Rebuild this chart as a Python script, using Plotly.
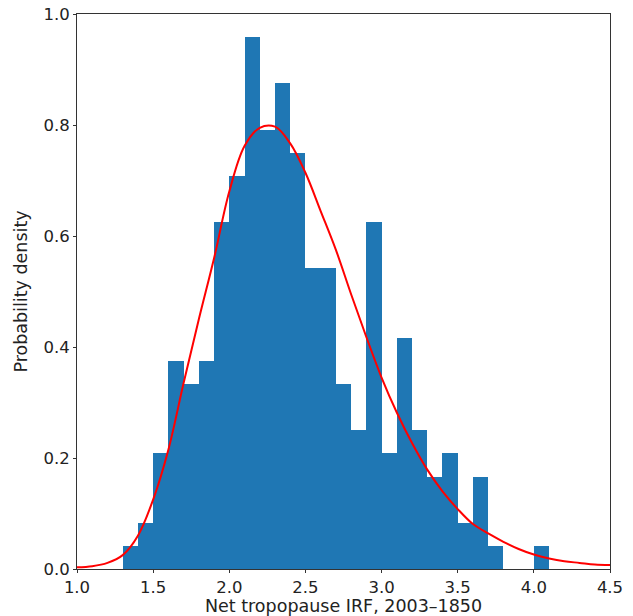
import plotly.graph_objects as go

# histogram: bin left edges and counts (240 samples, bin width 0.1)
bin_left = [1.3, 1.4, 1.5, 1.6, 1.7, 1.8, 1.9, 2.0, 2.1, 2.2, 2.3, 2.4, 2.5, 2.6,
            2.7, 2.8, 2.9, 3.0, 3.1, 3.2, 3.3, 3.4, 3.5, 3.6, 3.7, 3.8, 3.9, 4.0]
counts = [1, 2, 5, 9, 8, 9, 15, 17, 23, 19, 21, 18, 13, 13,
          8, 6, 15, 5, 10, 6, 4, 5, 2, 4, 1, 0, 0, 1]
bin_width = 0.1
n_total = sum(counts)
density = [c / (n_total * bin_width) for c in counts]
centers = [b + bin_width / 2 for b in bin_left]

# fitted pdf
curve_x = [1.0, 1.1, 1.2, 1.3, 1.4, 1.5, 1.6, 1.7, 1.8, 1.9, 2.0, 2.1, 2.2, 2.3,
           2.4, 2.5, 2.6, 2.7, 2.8, 2.9, 3.0, 3.1, 3.2, 3.3, 3.4, 3.5, 3.6, 3.7,
           3.8, 3.9, 4.0, 4.1, 4.2, 4.3, 4.4, 4.5]
curve_y = [0.003, 0.005, 0.011, 0.025, 0.060, 0.125, 0.215, 0.335, 0.45, 0.56,
           0.68, 0.762, 0.795, 0.797, 0.767, 0.714, 0.645, 0.575, 0.495, 0.418,
           0.345, 0.282, 0.227, 0.179, 0.140, 0.108, 0.081, 0.064, 0.049, 0.036,
           0.026, 0.019, 0.014, 0.011, 0.008, 0.007]

fig = go.Figure()
fig.add_trace(go.Bar(x=centers, y=density, width=bin_width,
                     marker=dict(color="#1f77b4", line=dict(width=0)),
                     showlegend=False))
fig.add_trace(go.Scatter(x=curve_x, y=curve_y, mode="lines", line_shape="spline",
                         line=dict(color="red", width=2), showlegend=False))

axis_common = dict(showline=True, linecolor="#333", linewidth=1, mirror=True,
                   ticks="outside", ticklen=3, tickcolor="#333", showgrid=False,
                   zeroline=False, automargin=False, tickfont=dict(size=16.5, color="#222"))
fig.update_xaxes(range=[1.0, 4.5], tickvals=[1.0, 1.5, 2.0, 2.5, 3.0, 3.5, 4.0, 4.5],
                 tickformat=".1f", title=dict(text="Net tropopause IRF, 2003–1850",
                                              font=dict(size=17.5, color="#222"), standoff=5),
                 **axis_common)
fig.update_yaxes(range=[0, 1.0], tickvals=[0, 0.2, 0.4, 0.6, 0.8, 1.0], tickformat=".1f",
                 title=dict(text="Probability density", font=dict(size=17.5, color="#222"), standoff=11),
                 **axis_common)
fig.update_layout(width=633, height=616, margin=dict(l=77, r=23, t=14, b=47),
                  plot_bgcolor="white", paper_bgcolor="white", bargap=0,
                  font=dict(family="DejaVu Sans"))
fig.write_html("out.html", config={"displayModeBar": False},
               post_script="document.body.style.margin='0';")
